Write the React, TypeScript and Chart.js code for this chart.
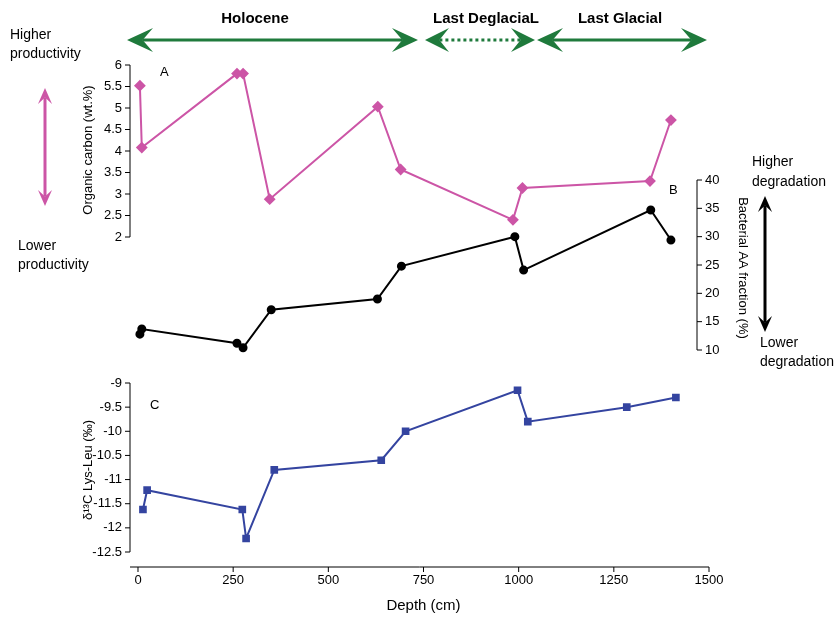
import { useEffect, useRef } from 'react';
import { Chart, registerables } from 'chart.js';

Chart.register(...registerables);

// depth (cm) and values
const depthA = [5, 10, 260, 276, 346, 630, 690, 985, 1010, 1345, 1400];
const organicCarbon = [5.52, 4.08, 5.8, 5.8, 2.88, 5.03, 3.57, 2.4, 3.14, 3.3, 4.72];

const depthB = [5, 10, 260, 276, 350, 629, 692, 990, 1013, 1347, 1400];
const bacterialAA = [12.8, 13.7, 11.2, 10.4, 17.1, 19.0, 24.8, 30.0, 24.1, 34.7, 29.4];

const depthC = [13, 24, 274, 284, 358, 639, 703, 997, 1024, 1284, 1413];
const d13C = [-11.62, -11.22, -11.62, -12.22, -10.8, -10.6, -10.0, -9.15, -9.8, -9.5, -9.3];

const xTicks = [0, 250, 500, 750, 1000, 1250, 1500];
const ticksA = [2, 2.5, 3, 3.5, 4, 4.5, 5, 5.5, 6];
const ticksB = [10, 15, 20, 25, 30, 35, 40];
const ticksC = [-9, -9.5, -10, -10.5, -11, -11.5, -12, -12.5];

const TOP = 40;
const BOTTOM = 567;
const FONT = '"Liberation Sans", Arial, sans-serif';
const GREEN = '#1f7a3c';
const PINK = '#cc55a6';
const BLUE = '#3444a0';

// linear map so that vTop sits at yTop and vBot at yBot inside TOP..BOTTOM
function range(vTop: number, yTop: number, vBot: number, yBot: number) {
  const k = (vTop - vBot) / (yBot - yTop);
  return { max: vTop + (yTop - TOP) * k, min: vBot - (BOTTOM - yBot) * k };
}

const rA = range(6, 65, 2, 237);
const rB = range(40, 180, 10, 350);
const rC = range(-9, 383, -12.5, 552);

function arrowHead(ctx: CanvasRenderingContext2D, x: number, y: number, dx: number, dy: number, len: number, w: number) {
  ctx.beginPath();
  ctx.moveTo(x, y);
  ctx.lineTo(x - dx * len - dy * w, y - dy * len + dx * w);
  ctx.lineTo(x - dx * len * 0.6, y - dy * len * 0.6);
  ctx.lineTo(x - dx * len + dy * w, y - dy * len - dx * w);
  ctx.closePath();
  ctx.fill();
}

function dblArrow(ctx: CanvasRenderingContext2D, x1: number, y1: number, x2: number, y2: number, color: string, lw: number, len: number, w: number, dash = false) {
  const d = Math.hypot(x2 - x1, y2 - y1);
  const dx = (x2 - x1) / d, dy = (y2 - y1) / d;
  ctx.save();
  ctx.strokeStyle = color;
  ctx.fillStyle = color;
  ctx.lineWidth = lw;
  if (dash) ctx.setLineDash([3, 3]);
  ctx.beginPath();
  ctx.moveTo(x1 + dx * len * 0.6, y1 + dy * len * 0.6);
  ctx.lineTo(x2 - dx * len * 0.6, y2 - dy * len * 0.6);
  ctx.stroke();
  ctx.setLineDash([]);
  arrowHead(ctx, x2, y2, dx, dy, len, w);
  arrowHead(ctx, x1, y1, -dx, -dy, len, w);
  ctx.restore();
}

const decorPlugin = {
  id: 'decor',
  afterDraw(chart: Chart) {
    const ctx = chart.ctx;
    const sx = chart.scales.x;
    const yA = chart.scales.yA, yB = chart.scales.yB, yC = chart.scales.yC;
    ctx.save();
    ctx.strokeStyle = '#000';
    ctx.fillStyle = '#000';
    ctx.lineWidth = 1;

    // x axis
    ctx.beginPath();
    ctx.moveTo(130, BOTTOM);
    ctx.lineTo(sx.getPixelForValue(1500), BOTTOM);
    ctx.stroke();
    ctx.font = `13px ${FONT}`;
    ctx.textAlign = 'center';
    ctx.textBaseline = 'top';
    xTicks.forEach((t) => {
      const p = sx.getPixelForValue(t);
      ctx.beginPath();
      ctx.moveTo(p, BOTTOM);
      ctx.lineTo(p, BOTTOM + 5);
      ctx.stroke();
      ctx.fillText(String(t), p, BOTTOM + 7);
    });
    ctx.font = `15px ${FONT}`;
    ctx.fillText('Depth (cm)', sx.getPixelForValue(750), 598);

    // left / right y axes
    const yAxis = (sc: any, ticks: number[], x: number, side: number) => {
      const p0 = sc.getPixelForValue(ticks[0]);
      const p1 = sc.getPixelForValue(ticks[ticks.length - 1]);
      ctx.beginPath();
      ctx.moveTo(x, p0);
      ctx.lineTo(x, p1);
      ctx.stroke();
      ctx.font = `13px ${FONT}`;
      ctx.textAlign = side < 0 ? 'right' : 'left';
      ctx.textBaseline = 'middle';
      ticks.forEach((t) => {
        const p = sc.getPixelForValue(t);
        ctx.beginPath();
        ctx.moveTo(x, p);
        ctx.lineTo(x + side * 5, p);
        ctx.stroke();
        ctx.fillText(String(t), x + side * 8, p);
      });
    };
    yAxis(yA, ticksA, 130, -1);
    yAxis(yB, ticksB, 697, 1);
    yAxis(yC, ticksC, 130, -1);

    const rot = (text: string, x: number, y: number, ang: number) => {
      ctx.save();
      ctx.translate(x, y);
      ctx.rotate(ang);
      ctx.textAlign = 'center';
      ctx.textBaseline = 'middle';
      ctx.fillText(text, 0, 0);
      ctx.restore();
    };
    ctx.font = `13px ${FONT}`;
    rot('Organic carbon (wt.%)', 88, 150, -Math.PI / 2);
    rot('Bacterial AA fraction (%)', 743, 268, Math.PI / 2);
    rot('δ¹³C Lys-Leu (‰)', 88, 470, -Math.PI / 2);

    ctx.textAlign = 'left';
    ctx.textBaseline = 'middle';
    ctx.fillText('A', 160, 72);
    ctx.fillText('B', 669, 190);
    ctx.fillText('C', 150, 405);

    ctx.font = `14px ${FONT}`;
    ctx.fillText('Higher', 10, 35);
    ctx.fillText('productivity', 10, 54);
    ctx.fillText('Lower', 18, 246);
    ctx.fillText('productivity', 18, 265);
    ctx.fillText('Higher', 752, 162);
    ctx.fillText('degradation', 752, 182);
    ctx.fillText('Lower', 760, 343);
    ctx.fillText('degradation', 760, 362);

    ctx.font = `bold 15px ${FONT}`;
    ctx.textAlign = 'center';
    ctx.fillText('Holocene', 255, 19);
    ctx.fillText('Last DeglaciaL', 486, 19);
    ctx.fillText('Last Glacial', 620, 19);

    dblArrow(ctx, 127, 40, 418, 40, GREEN, 3, 26, 12);
    dblArrow(ctx, 425, 40, 535, 40, GREEN, 3, 24, 12, true);
    dblArrow(ctx, 537, 40, 707, 40, GREEN, 3, 26, 12);
    dblArrow(ctx, 45, 88, 45, 206, PINK, 3, 16, 7);
    dblArrow(ctx, 765, 196, 765, 332, '#000', 3, 16, 7);
    ctx.restore();
  },
};

export default function App() {
  const canvasRef = useRef<HTMLCanvasElement | null>(null);

  useEffect(() => {
    document.body.style.margin = '0';
    if (!canvasRef.current) return;
    const ctx = canvasRef.current.getContext('2d');
    if (!ctx) return;

    const pts = (xs: number[], ys: number[]) => xs.map((x, i) => ({ x, y: ys[i] }));

    const chart = new Chart(ctx, {
      type: 'line',
      data: {
        datasets: [
          {
            data: pts(depthA, organicCarbon),
            yAxisID: 'yA',
            borderColor: PINK,
            backgroundColor: PINK,
            borderWidth: 2,
            pointStyle: 'rectRot',
            pointRadius: 4.5,
          },
          {
            data: pts(depthB, bacterialAA),
            yAxisID: 'yB',
            borderColor: '#000',
            backgroundColor: '#000',
            borderWidth: 2,
            pointStyle: 'circle',
            pointRadius: 3.5,
          },
          {
            data: pts(depthC, d13C),
            yAxisID: 'yC',
            borderColor: BLUE,
            backgroundColor: BLUE,
            borderWidth: 2,
            pointStyle: 'rect',
            pointRadius: 4,
          },
        ],
      },
      options: {
        responsive: false,
        animation: false,
        layout: { padding: { left: 130, right: 129, top: TOP, bottom: 617 - BOTTOM } },
        plugins: { legend: { display: false }, tooltip: { enabled: false } },
        scales: {
          x: { type: 'linear', min: -21, max: 1500, display: false },
          yA: { type: 'linear', min: rA.min, max: rA.max, display: false },
          yB: { type: 'linear', min: rB.min, max: rB.max, display: false },
          yC: { type: 'linear', min: rC.min, max: rC.max, display: false },
        },
      },
      plugins: [decorPlugin],
    });

    return () => {
      chart.destroy();
    };
  }, []);

  return <canvas ref={canvasRef} width={838} height={617} style={{ display: 'block' }}></canvas>;
}
